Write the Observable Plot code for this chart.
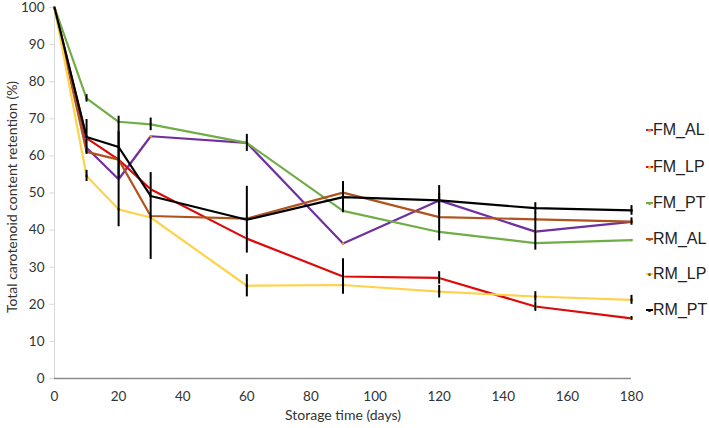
<!DOCTYPE html>
<html>
<head>
<meta charset="utf-8">
<script src="https://cdn.jsdelivr.net/npm/d3@7"></script>
<script src="https://cdn.jsdelivr.net/npm/@observablehq/plot@0.6"></script>
<style>
  html, body { margin: 0; padding: 0; background: #fff; }
  #wrap { position: relative; width: 709px; height: 428px; }
  #legend { position: absolute; left: 646px; top: 0; font-family: "Liberation Sans", Arial, sans-serif; font-size: 16px; color: #222; }
  .item { position: absolute; left: 0; display: flex; align-items: center; white-space: nowrap; transform: translateY(-50%); }
  .sw { position: relative; width: 7px; height: 2px; margin-right: 0px; }
  .sw i { position: absolute; left: 2px; top: -0.5px; width: 3px; height: 3px; border-radius: 50%; }
</style>
</head>
<body>
<div id="wrap"><div id="legend"></div></div>
<script>
const days = [0, 10, 20, 30, 60, 90, 120, 150, 180];
const seriesNames = ["FM_AL", "FM_LP", "FM_PT", "RM_AL", "RM_LP", "RM_PT"];
const colors = ["#7030a0", "#dd0a0a", "#70ad47", "#b0531c", "#ffd24d", "#000000"];
const markerColors = ["#ff8c1a", "#ffcc33", "#70ad47", "#b0531c", "#7a5c00", "#000000"];

const fmAL = [100, 62.2, 53.7, 65.3, 63.5, 36.4, 48.0, 39.6, 42.2];
const fmLP = [100, 64.8, 59.0, 51.0, 37.7, 27.5, 27.1, 19.4, 16.2];
const fmPT = [100, 75.5, 69.2, 68.5, 63.5, 45.2, 39.5, 36.5, 37.3];
const rmAL = [100, 61.1, 59.0, 43.8, 43.1, 50.1, 43.5, 42.9, 42.3];
const rmLP = [100, 54.6, 45.6, 43.4, 25.0, 25.2, 23.4, 22.1, 21.2];
const rmPT = [100, 65.1, 62.4, 49.2, 42.8, 48.9, 48.0, 45.9, 45.3];

const fmALerr = [0, 0, 12.8, 0, 0, 0, 0, 5.0, 0];
const fmLPerr = [0, 0, 0, 0, 0, 4.8, 1.7, 1.3, 0.5];
const fmPTerr = [0, 1.0, 0, 1.7, 2.3, 0, 0, 0, 0];
const rmALerr = [0, 0, 0, 11.7, 0, 0, 6.4, 0, 1.0];
const rmLPerr = [0, 1.5, 0, 0, 3.0, 0, 1.7, 1.3, 1.2];
const rmPTerr = [0, 4.7, 8.3, 0, 9.0, 4.2, 4.0, 1.5, 1.3];

const yTicks = [0, 10, 20, 30, 40, 50, 60, 70, 80, 90, 100];
const xTicks = [0, 20, 40, 60, 80, 100, 120, 140, 160, 180];

const values = [fmAL, fmLP, fmPT, rmAL, rmLP, rmPT];
const errs = [fmALerr, fmLPerr, fmPTerr, rmALerr, rmLPerr, rmPTerr];

const rows = [];
seriesNames.forEach((s, i) => {
  days.forEach((d, j) => {
    rows.push({series: s, day: d, value: values[i][j], err: errs[i][j], idx: i});
  });
});
const errRows = rows.filter(r => r.err > 0);

const font = "Lato, 'Open Sans', sans-serif";

const chart = Plot.plot({
  width: 709,
  height: 428,
  marginLeft: 54,
  marginRight: 78,
  marginTop: 7,
  marginBottom: 50,
  style: {fontFamily: font, fontSize: "13px", color: "#333", background: "#fff"},
  x: {domain: [0, 180]},
  y: {domain: [0, 100]},
  color: {domain: seriesNames, range: colors},
  marks: [
    Plot.ruleX([0], {stroke: "#d9d9d9", strokeWidth: 1}),
    Plot.axisY({ticks: yTicks, tickSize: 5, tickPadding: 5, stroke: "#d9d9d9", label: null, fontSize: 13.5}),
    Plot.axisX({ticks: xTicks, tickSize: 0, tickPadding: 13, label: null, fontSize: 13.5}),
    Plot.ruleY([0], {stroke: "#8c8c8c", strokeWidth: 1.5}),
    Plot.line(rows, {x: "day", y: "value", z: "series", stroke: "series", strokeWidth: 2.2, strokeLinejoin: "round"}),
    Plot.dot(rows.filter(r => r.day > 0), {x: "day", y: "value", r: 1.3, fill: r => markerColors[r.idx], stroke: "none"}),
    Plot.ruleX(errRows, {x: "day", y1: r => r.value - r.err, y2: r => r.value + r.err, stroke: "#000", strokeWidth: 2}),
    Plot.text(["Storage time (days)"], {frameAnchor: "bottom", dy: 41, fontSize: 14, fill: "#333"}),
    Plot.text(["Total carotenoid content retention (%)"], {frameAnchor: "left", textAnchor: "middle", dx: -42, dy: 4, rotate: -90, fontSize: 14, fill: "#333"})
  ]
});
document.getElementById("wrap").prepend(chart);

const legendYs = [130, 167, 203, 239, 274, 310];
const legend = document.getElementById("legend");
seriesNames.forEach((s, i) => {
  const item = document.createElement("div");
  item.className = "item";
  item.style.top = legendYs[i] + "px";
  const sw = document.createElement("span");
  sw.className = "sw";
  sw.style.background = colors[i];
  const dot = document.createElement("i");
  dot.style.background = markerColors[i];
  sw.appendChild(dot);
  const t = document.createElement("span");
  t.textContent = s;
  item.appendChild(sw);
  item.appendChild(t);
  legend.appendChild(item);
});
</script>
</body>
</html>
